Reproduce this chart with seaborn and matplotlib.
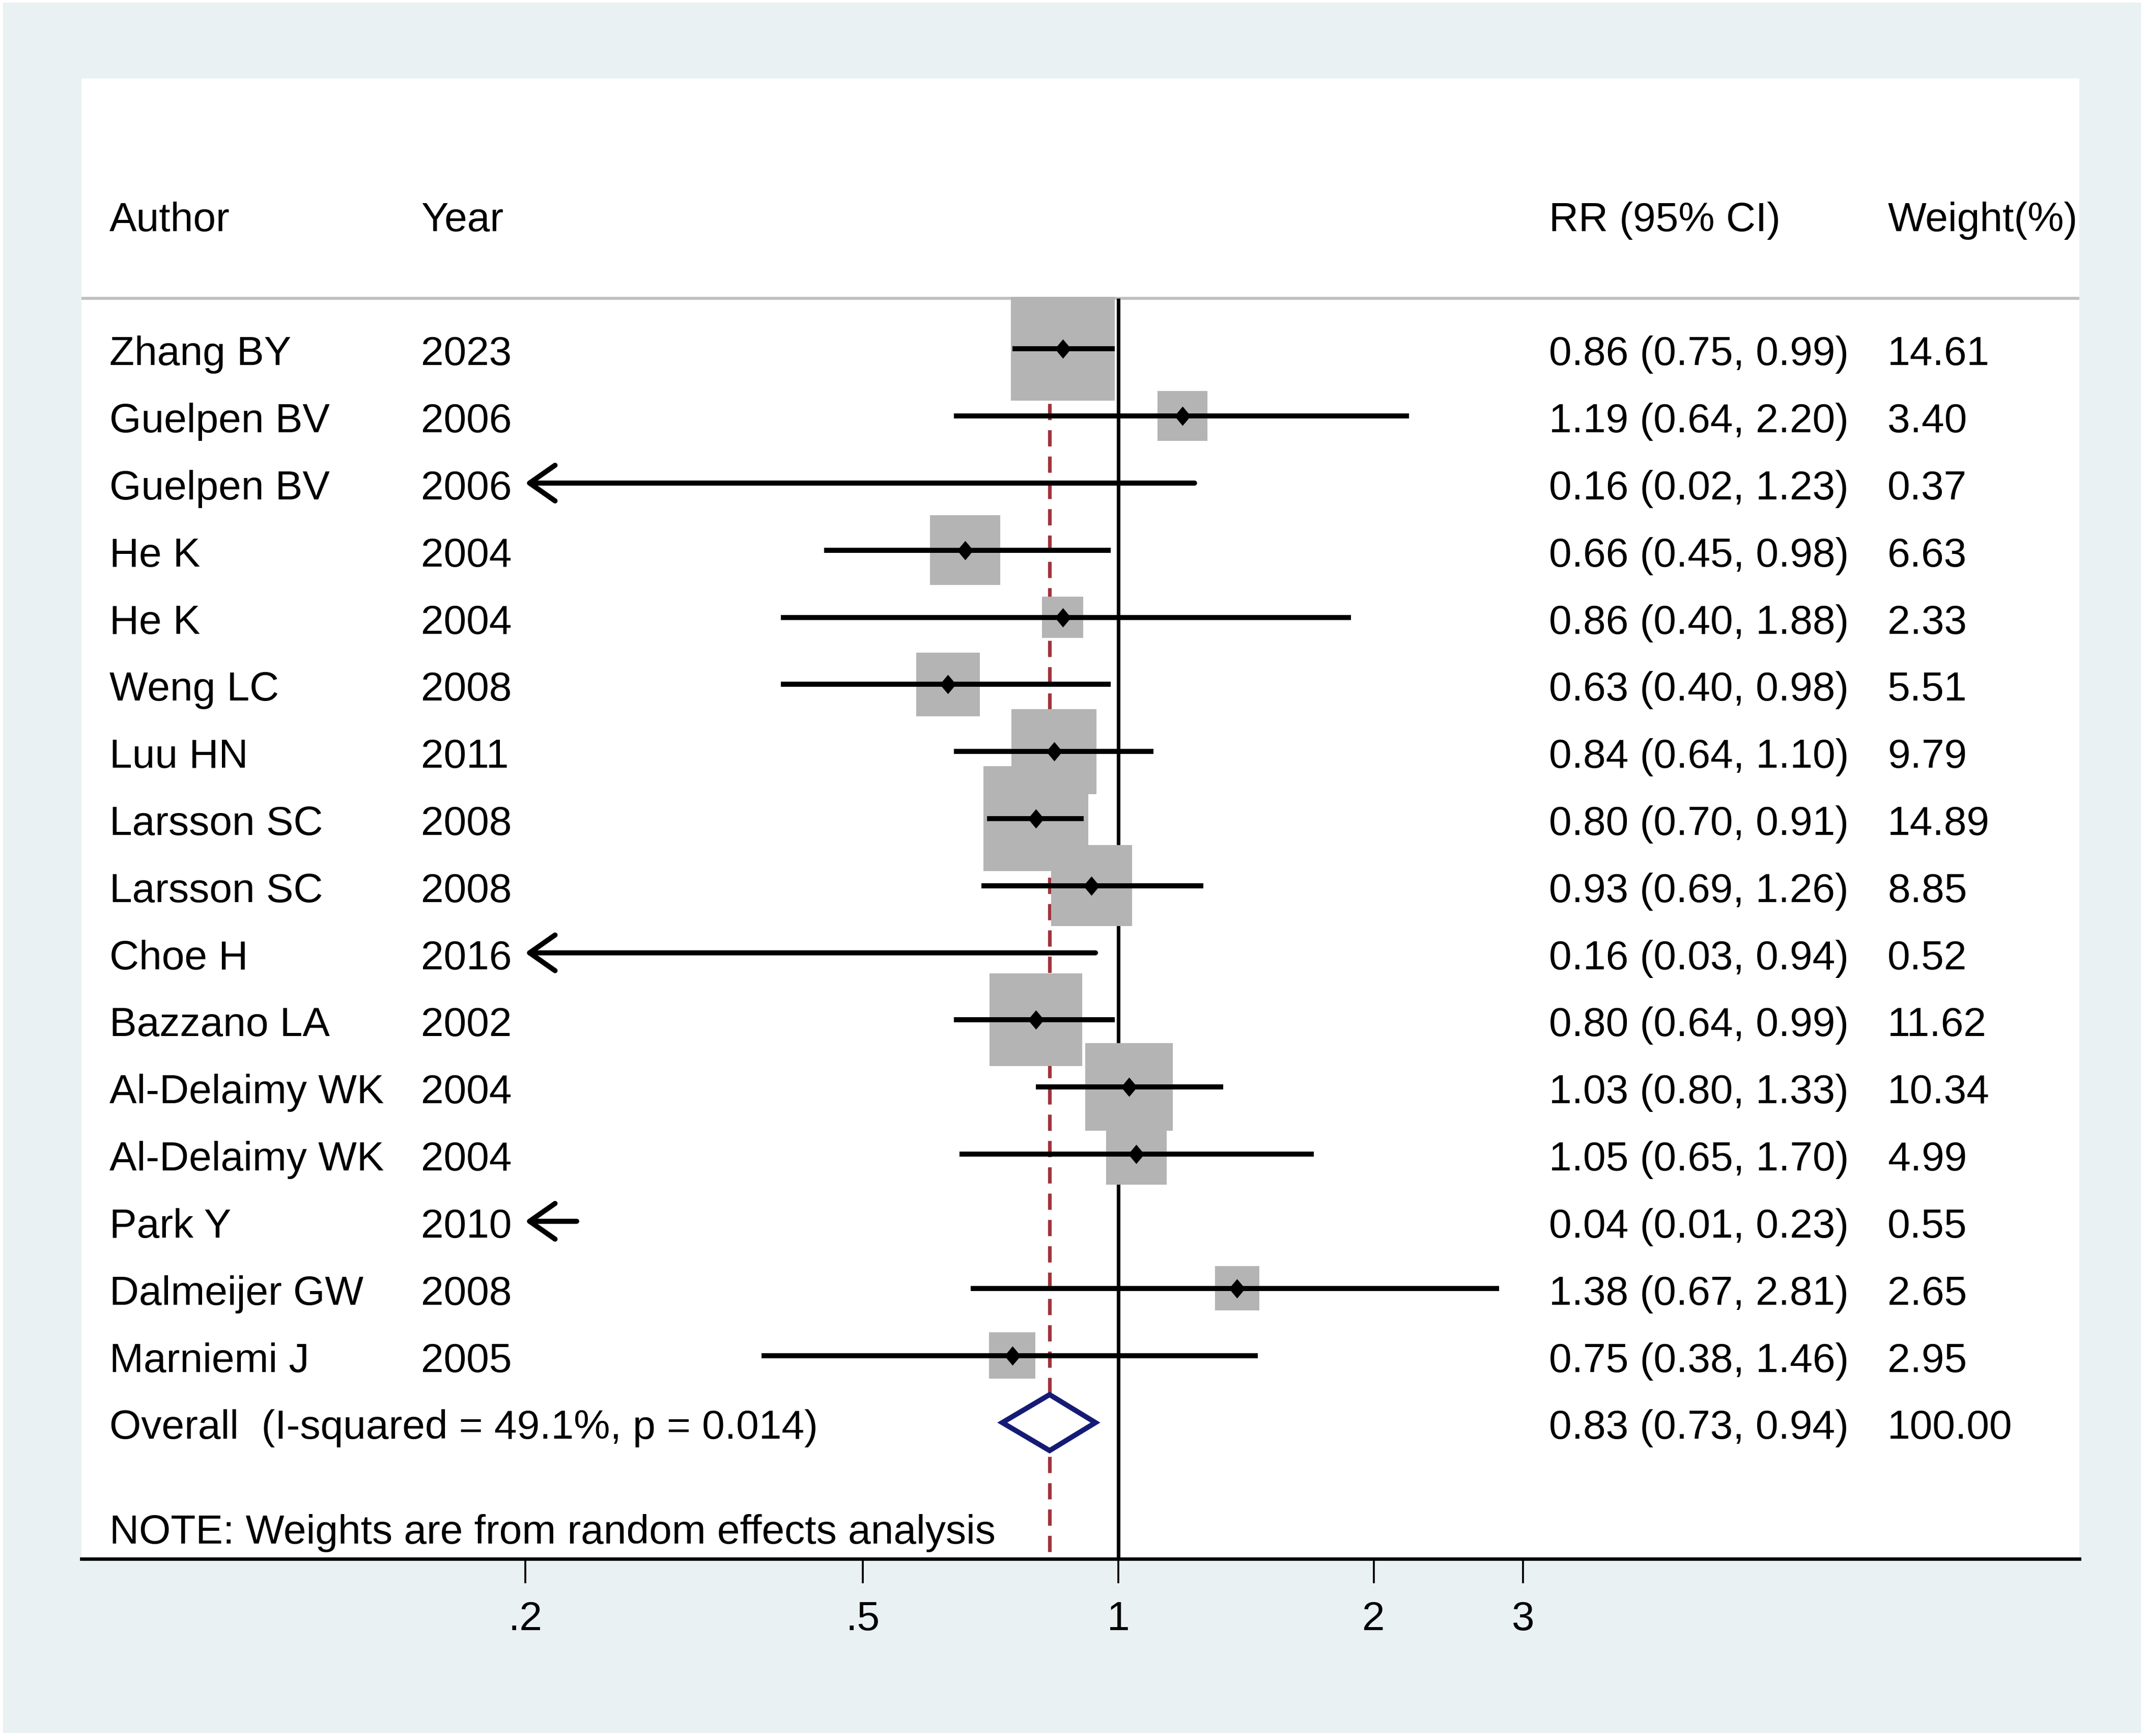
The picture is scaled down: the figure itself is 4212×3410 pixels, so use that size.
import numpy as np
import pandas as pd
import seaborn as sns
import matplotlib.pyplot as plt
import matplotlib.transforms as mtransforms
from matplotlib.patches import Rectangle
from matplotlib.ticker import NullLocator

# ---------------------------------------------------------
# DATA
# ---------------------------------------------------------
AUTHORS = ["Zhang BY", "Guelpen BV", "Guelpen BV", "He K", "He K", "Weng LC",
           "Luu HN", "Larsson SC", "Larsson SC", "Choe H", "Bazzano LA",
           "Al-Delaimy WK", "Al-Delaimy WK", "Park Y", "Dalmeijer GW", "Marniemi J"]
YEARS = [2023, 2006, 2006, 2004, 2004, 2008, 2011, 2008, 2008, 2016, 2002,
         2004, 2004, 2010, 2008, 2005]
RR = [0.86, 1.19, 0.16, 0.66, 0.86, 0.63, 0.84, 0.80, 0.93, 0.16, 0.80,
      1.03, 1.05, 0.04, 1.38, 0.75]
LO = [0.75, 0.64, 0.02, 0.45, 0.40, 0.40, 0.64, 0.70, 0.69, 0.03, 0.64,
      0.80, 0.65, 0.01, 0.67, 0.38]
HI = [0.99, 2.20, 1.23, 0.98, 1.88, 0.98, 1.10, 0.91, 1.26, 0.94, 0.99,
      1.33, 1.70, 0.23, 2.81, 1.46]
WEIGHTS = [14.61, 3.40, 0.37, 6.63, 2.33, 5.51, 9.79, 14.89, 8.85, 0.52, 11.62,
           10.34, 4.99, 0.55, 2.65, 2.95]

OVERALL_RR, OVERALL_LO, OVERALL_HI = 0.83, 0.73, 0.94
OVERALL_LABEL = "Overall  (I-squared = 49.1%, p = 0.014)"
NOTE = "NOTE: Weights are from random effects analysis"

TICKS = [0.2, 0.5, 1, 2, 3]
TICK_LABELS = [".2", ".5", "1", "2", "3"]
XMIN = 0.2   # CI truncated here (arrow)

# ---------------------------------------------------------
# STYLE
# ---------------------------------------------------------
sns.set_style("white")
plt.rcParams['font.family'] = ['Liberation Sans', 'DejaVu Sans']
FS = 19.25
C_BG = '#e9f1f3'
C_BOX = '#b4b4b4'
C_RED = '#a0333d'
C_NAVY = '#151b74'

W, H, DPI = 4212, 3411, 300
fig = plt.figure(figsize=(W / DPI, H / DPI), dpi=DPI, facecolor='white')
fig.patches.append(Rectangle((6 / W, 6 / H), 1 - 12 / W, 1 - 12 / H,
                             transform=fig.transFigure, facecolor=C_BG,
                             edgecolor='none', zorder=-10))

ax = fig.add_axes([160 / W, 1 - 3063 / H, (4085 - 160) / W, (3063 - 155) / H])
ax.set_facecolor('white')
ax.set_xscale('log')
ax.set_xlim(np.exp(-2.8135), np.exp(2.608))
ax.set_ylim(18.03, -4.03)

df = pd.DataFrame({'author': AUTHORS, 'year': YEARS, 'rr': RR, 'lo': LO,
                   'hi': HI, 'weight': WEIGHTS})
df['row'] = np.arange(len(df))
n = len(df)

Y_TOP = -0.75
Y_BOT = 18.03

# reference lines (behind boxes)
ax.axhline(Y_TOP, color='#c0c0c0', lw=1.4, zorder=1)
ax.vlines(1, Y_TOP, Y_BOT, colors='black', lw=1.7, zorder=1)
ax.vlines(OVERALL_RR, Y_TOP, Y_BOT, colors=C_RED, lw=1.7,
          linestyles=(0, (4.5, 2.8)), zorder=1)

# weight boxes (side ~ sqrt(weight))
inside = df[df['rr'] >= XMIN]
K = 164.3
wmin, wmax = df['weight'].min(), df['weight'].max()
sns.scatterplot(data=inside, x='rr', y='row', size='weight',
                sizes=(K * wmin, K * wmax), size_norm=(wmin, wmax),
                marker='s', color=C_BOX, linewidth=0, legend=False,
                ax=ax, zorder=2)

# confidence intervals
for _, r in df.iterrows():
    if r['lo'] < XMIN:
        ax.annotate('', xy=(XMIN, r['row']), xytext=(r['hi'], r['row']),
                    arrowprops=dict(arrowstyle='->,head_length=0.6,head_width=0.42',
                                    lw=2.4, color='black', shrinkA=0, shrinkB=0,
                                    mutation_scale=20), zorder=3)
    else:
        ax.hlines(r['row'], r['lo'], r['hi'], colors='black', lw=2.4, zorder=3)

# point estimates
diamond = [(-0.42, 0), (0, 0.5), (0.42, 0), (0, -0.5), (-0.42, 0)]
sns.scatterplot(data=inside, x='rr', y='row', marker=diamond, s=83,
                color='black', linewidth=0, legend=False, ax=ax, zorder=4)

# overall diamond
y_ov = n
hh = 0.417
ax.fill([OVERALL_LO, OVERALL_RR, OVERALL_HI, OVERALL_RR, OVERALL_LO],
        [y_ov, y_ov - hh, y_ov, y_ov + hh, y_ov],
        facecolor='white', edgecolor=C_NAVY, lw=2.4, joinstyle='miter', zorder=4)

# ---------------------------------------------------------
# TEXT COLUMNS
# ---------------------------------------------------------
trans = mtransforms.blended_transform_factory(ax.transAxes, ax.transData)
X_AUTH, X_YEAR, X_RR, X_W = 0.0140, 0.170, 0.7345, 0.904
OFF = 0.235


def put(x, y, s):
    ax.text(x, y + OFF, s, transform=trans, fontsize=FS, va='baseline',
            ha='left', color='black')


put(X_AUTH, -2, "Author")
put(X_YEAR, -2, "Year")
put(X_RR, -2, "RR (95% CI)")
put(X_W, -2, "Weight(%)")

for _, r in df.iterrows():
    put(X_AUTH, r['row'], r['author'])
    put(X_YEAR, r['row'], str(r['year']))
    put(X_RR, r['row'], f"{r['rr']:.2f} ({r['lo']:.2f}, {r['hi']:.2f})")
    put(X_W, r['row'], f"{r['weight']:.2f}")

put(X_AUTH, y_ov, OVERALL_LABEL)
put(X_RR, y_ov, f"{OVERALL_RR:.2f} ({OVERALL_LO:.2f}, {OVERALL_HI:.2f})")
put(X_W, y_ov, "100.00")
put(X_AUTH, 17.56, NOTE)

# ---------------------------------------------------------
# AXIS
# ---------------------------------------------------------
ax.set_xticks(TICKS)
ax.set_xticklabels(TICK_LABELS)
ax.xaxis.set_minor_locator(NullLocator())
ax.set_yticks([])
ax.tick_params(axis='x', direction='out', length=11.5, width=0.9, pad=8,
               labelsize=FS, colors='black', bottom=True)
for s in ['left', 'top', 'right']:
    ax.spines[s].set_visible(False)
ax.spines['bottom'].set_linewidth(1.6)
ax.spines['bottom'].set_color('black')
ax.set_xlabel("")
ax.set_ylabel("")

fig.savefig('out.png', dpi=DPI, facecolor=fig.get_facecolor())
